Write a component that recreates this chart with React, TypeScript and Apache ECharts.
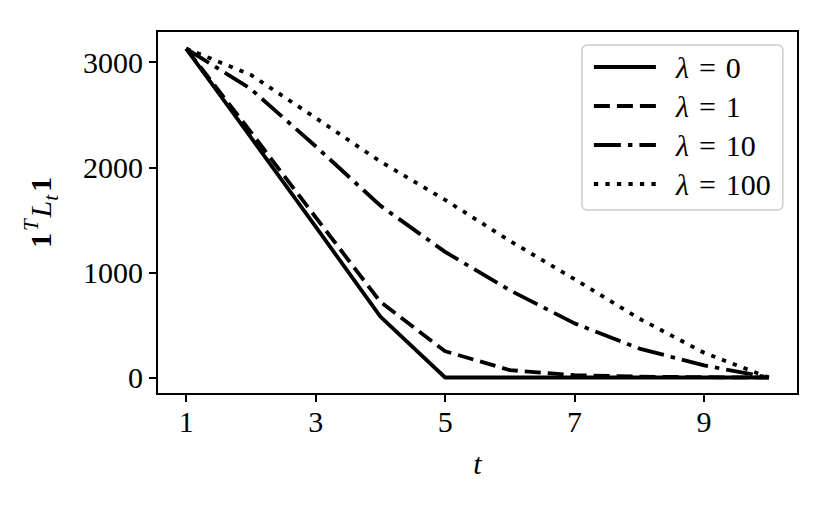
import React, { useEffect, useRef } from "react";
import * as echarts from "echarts";

const tValues = [1, 2, 3, 4, 5, 6, 7, 8, 9, 10];
const lam0 = [3130, 2285, 1435, 580, 0, 0, 0, 0, 0, 0];
const lam1 = [3130, 2335, 1525, 720, 250, 70, 22, 8, 3, 0];
const lam10 = [3130, 2745, 2200, 1635, 1195, 830, 515, 275, 115, 0];
const lam100 = [3130, 2880, 2470, 2055, 1690, 1300, 935, 560, 235, 0];
const xTicks = [1, 3, 5, 7, 9];
const yTicks = [0, 1000, 2000, 3000];
const lambdas = ["0", "1", "10", "100"];
const seriesNames = lambdas.map((l) => "λ = " + l);

const FONT = "Liberation Serif";

export default function App() {
  const ref = useRef<HTMLDivElement>(null);
  useEffect(() => {
    if (!ref.current) return;
    const chart = echarts.init(ref.current, null, { renderer: "svg" });
    const lw = 3.8;
    const mk = (name: string, vals: number[], type: any) => ({
      name,
      type: "line",
      data: tValues.map((t, i) => [t, vals[i]]),
      symbol: "none",
      lineStyle: { color: "#000", width: lw, type, cap: "butt" },
      itemStyle: { color: "#000" },
      z: 3,
    });
    chart.setOption({
      animation: false,
      backgroundColor: "#fff",
      grid: {
        left: 157,
        top: 31,
        width: 641,
        height: 363,
        show: true,
        borderColor: "#000",
        borderWidth: 2,
        backgroundColor: "transparent",
      },
      xAxis: {
        type: "value",
        min: 0.55,
        max: 10.45,
        name: "t",
        nameLocation: "middle",
        nameGap: 54,
        nameTextStyle: { fontFamily: FONT, fontSize: 30, fontStyle: "italic", color: "#000" },
        axisLine: { show: true, onZero: false, lineStyle: { color: "#000", width: 2 } },
        axisTick: { show: true, inside: false, length: 8, customValues: xTicks, lineStyle: { color: "#000", width: 2 } },
        axisLabel: { customValues: xTicks, fontFamily: FONT, fontSize: 30, color: "#000", margin: 12, formatter: (v: number) => String(v) },
        splitLine: { show: false },
      },
      yAxis: {
        type: "value",
        min: -157,
        max: 3297,
        name: "{b|1}{sup|T}{i|L}{sub|t}{b|1}",
        nameLocation: "middle",
        nameGap: 96,
        nameRotate: 90,
        nameTextStyle: {
          fontFamily: FONT,
          fontSize: 30,
          color: "#000",
          rich: {
            b: { fontFamily: FONT, fontSize: 30, fontWeight: "bold", color: "#000", verticalAlign: "bottom", padding: [0, 1, 6, 1] },
            sup: { fontFamily: FONT, fontSize: 21, fontStyle: "italic", color: "#000", verticalAlign: "bottom", padding: [0, 2, 20, 1] },
            i: { fontFamily: FONT, fontSize: 30, fontStyle: "italic", color: "#000", verticalAlign: "bottom", padding: [0, 0, 6, 0] },
            sub: { fontFamily: FONT, fontSize: 21, fontStyle: "italic", color: "#000", verticalAlign: "bottom", padding: [0, 2, 0, 0] },
          },
        },
        axisLine: { show: true, onZero: false, lineStyle: { color: "#000", width: 2 } },
        axisTick: { show: true, inside: false, length: 8, customValues: yTicks, lineStyle: { color: "#000", width: 2 } },
        axisLabel: { customValues: yTicks, fontFamily: FONT, fontSize: 30, color: "#000", margin: 14, formatter: (v: number) => String(v) },
        splitLine: { show: false },
      },
      legend: {
        orient: "vertical",
        left: 582,
        top: 45,
        itemWidth: 62,
        itemHeight: 14,
        itemGap: 7,
        itemStyle: { opacity: 0 },
        lineStyle: { width: lw },
        padding: [6, 12, 10, 10],
        backgroundColor: "rgba(255,255,255,0.8)",
        borderColor: "#cccccc",
        borderWidth: 1.5,
        borderRadius: 5,
        data: seriesNames,
        formatter: (n: string) => "{i|λ}\u2004=\u2004" + n.split("= ")[1],
        textStyle: {
          fontFamily: FONT,
          fontSize: 30,
          color: "#000",
          lineHeight: 32,
          padding: [0, 0, 0, 15],
          rich: {
            i: { fontFamily: FONT, fontSize: 30, fontStyle: "italic", color: "#000", lineHeight: 32 },
          },
        },
      },
      series: [
        mk(seriesNames[0], lam0, "solid"),
        mk(seriesNames[1], lam1, [16, 7]),
        mk(seriesNames[2], lam10, [27, 7, 4.5, 7]),
        mk(seriesNames[3], lam100, [4.3, 7.2]),
      ],
    });
    return () => chart.dispose();
  }, []);
  return <div ref={ref} style={{ position: "fixed", left: 0, top: 0, width: 830, height: 513, background: "#fff" }} />;
}
